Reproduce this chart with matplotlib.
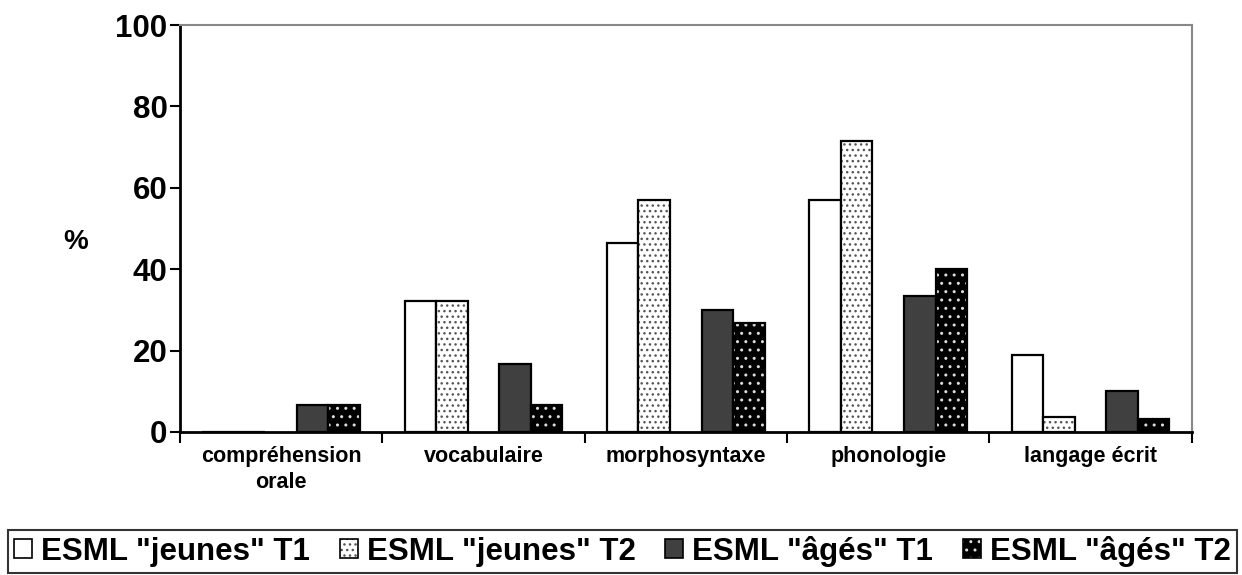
import matplotlib.pyplot as plt
from matplotlib.patches import Patch
from matplotlib.legend_handler import HandlerTuple
import numpy as np

# Données
categories = ['compréhension\norale', 'vocabulaire', 'morphosyntaxe', 'phonologie', 'langage écrit']
jeunes_t1 = [0, 32.1, 46.4, 57.1, 18.8]
jeunes_t2 = [0, 32.1, 57.1, 71.4, 3.6]
ages_t1 = [6.7, 16.7, 30.0, 33.3, 10.0]
ages_t2 = [6.7, 6.7, 26.7, 40.0, 3.3]
series_labels = ['ESML "jeunes" T1', 'ESML "jeunes" T2', 'ESML "âgés" T1', 'ESML "âgés" T2']
yticks = [0, 20, 40, 60, 80, 100]

plt.rcParams['font.family'] = ['Liberation Sans', 'DejaVu Sans']
plt.rcParams['font.weight'] = 'bold'
plt.rcParams['hatch.linewidth'] = 1.0

fig = plt.figure(figsize=(12.42, 5.75), dpi=100)
ax = fig.add_axes([0.1449, 0.2487, 0.8146, 0.7078])

x = np.arange(len(categories))
w = 0.156
# (valeurs, créneau, fond, motif, couleur du motif)
styles = [
    (jeunes_t1, -2, 'white', None, 'black'),
    (jeunes_t2, -1, 'white', '...', '#555555'),
    (ages_t1, 1, '#404040', None, '#404040'),
    (ages_t2, 2, 'black', '..', '#dddddd'),
]

handles = []
for vals, slot, fc, hatch, hc in styles:
    ax.bar(x + slot * w, vals, w, color=fc, hatch=hatch, edgecolor=hc, linewidth=0)
    ax.bar(x + slot * w, vals, w, fill=False, edgecolor='black', linewidth=1.6)
    h1 = Patch(facecolor=fc, hatch=hatch, edgecolor=hc, linewidth=0)
    h2 = Patch(fill=False, edgecolor='black', linewidth=1.2)
    handles.append((h1, h2))

ax.set_xlim(-0.5, len(categories) - 0.5)
ax.set_ylim(0, 100)
ax.set_yticks(yticks)
ax.set_yticklabels([str(t) for t in yticks], fontsize=22.5, fontweight='bold')
ax.tick_params(axis='y', length=7, width=1.5, pad=2)

ax.set_xticks(np.arange(len(categories) + 1) - 0.5)
ax.set_xticklabels([])
ax.set_xticks(x, minor=True)
ax.set_xticklabels(categories, minor=True, fontsize=15.5, fontweight='bold', linespacing=1.3)
ax.tick_params(axis='x', which='major', length=8, width=1.5)
ax.tick_params(axis='x', which='minor', length=0, pad=10)

ax.spines['left'].set_linewidth(2)
ax.spines['bottom'].set_linewidth(2)
ax.spines['top'].set_color('#888888')
ax.spines['right'].set_color('#888888')
ax.spines['top'].set_linewidth(1.5)
ax.spines['right'].set_linewidth(1.5)

fig.text(0.0612, 0.579, '%', fontsize=20, fontweight='bold', ha='center', va='center')

leg = fig.legend(handles, series_labels, loc='lower left',
                 bbox_to_anchor=(8 / 1242, 2 / 575, 1229 / 1242, 0.08), mode='expand',
                 ncol=4, handlelength=0.58, handleheight=0.58,
                 handletextpad=0.29, columnspacing=0.7, frameon=True, fancybox=False,
                 borderpad=0.2, borderaxespad=0.0,
                 handler_map={tuple: HandlerTuple(ndivide=1)},
                 prop={'weight': 'bold', 'size': 22.5})
leg.get_frame().set_edgecolor('black')
leg.get_frame().set_linewidth(1.5)

fig.savefig('out.png', dpi=100)
